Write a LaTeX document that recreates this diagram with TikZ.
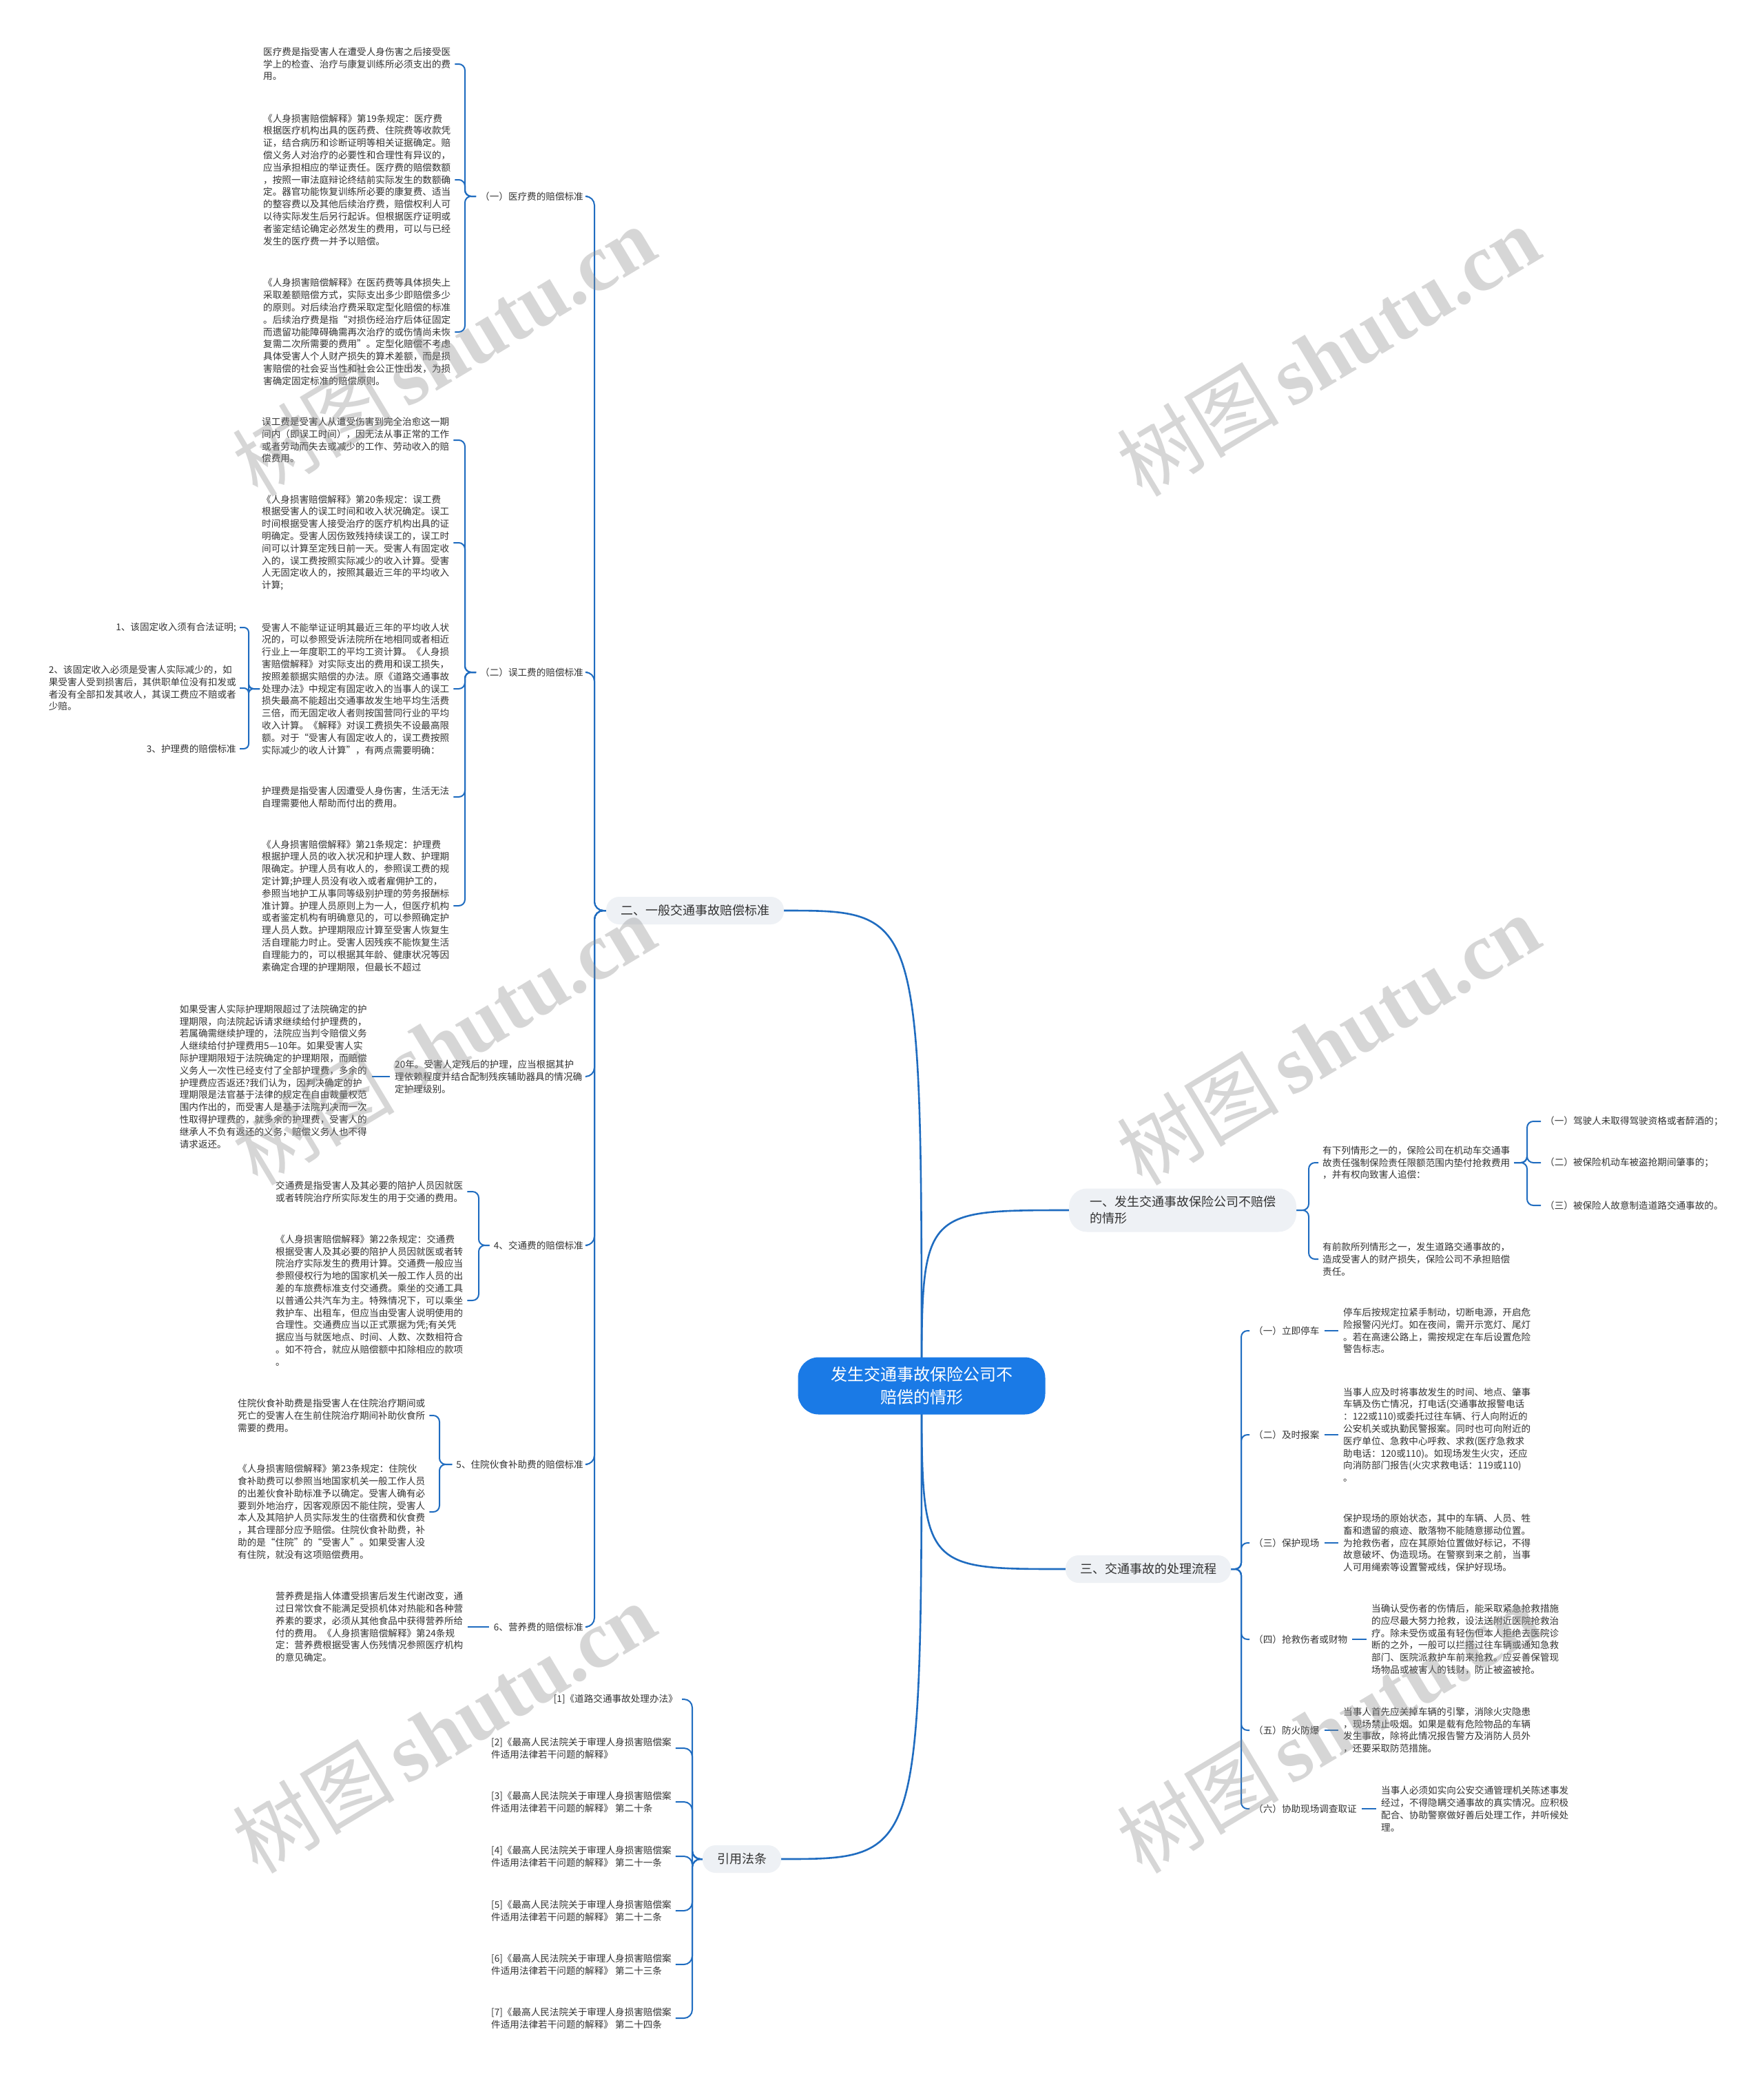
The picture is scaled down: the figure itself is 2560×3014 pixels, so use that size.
\documentclass[tikz,border=0pt]{standalone}
\usepackage{fontspec}
\newfontfamily\cjk{Noto Sans CJK SC}
\newfontfamily\wmlat{Liberation Serif}
\usetikzlibrary{backgrounds}
\definecolor{lc}{HTML}{1F6CC0}
\definecolor{txt}{HTML}{333333}
\definecolor{tfill}{HTML}{EEF1F5}
\definecolor{rootfill}{HTML}{1A7AE6}
\begin{document}
\begin{tikzpicture}[x=1pt,y=-1pt,
 leaf/.style={font=\cjk\fontsize{13.6}{17.8}\selectfont, align=left, inner sep=0pt, text=txt},
 conn/.style={draw=lc, line width=2pt, rounded corners=9pt},
 rootc/.style={draw=lc, line width=2.6pt},
 topic/.style={font=\cjk\fontsize{18}{24}\selectfont, fill=tfill, rounded corners=19pt, inner xsep=21pt, inner ysep=0pt, minimum height=40pt, text=txt, align=left},
 wm/.style={font=\cjk\fontsize{118}{118}\selectfont, text=black!45, text opacity=0.35, rotate=31}
]
% ---------------- root and main topics
\node[font=\cjk\fontsize{24}{33}\selectfont, fill=rootfill, text=white, rounded corners=30pt, minimum width=359pt, minimum height=83pt, align=center, inner sep=0pt] (root) at (1338,2012) {发生交通事故保险公司不\\赔偿的情形};
\node[topic] (er) at (1009,1322) {二、一般交通事故赔偿标准};
\node[topic] (yy) at (1077,2699) {引用法条};
\node[topic, inner xsep=30pt, minimum height=63pt, rounded corners=26pt] (y1) at (1717,1757) {一、发生交通事故保险公司不赔偿\\的情形};
\node[topic] (sn) at (1667,2278) {三、交通事故的处理流程};

% ---------------- (一) medical
\node[leaf,anchor=east] (L1) at (847,285) {（一）医疗费的赔偿标准};
\node[leaf,anchor=west] (A1) at (382,93) {医疗费是指受害人在遭受人身伤害之后接受医\\学上的检查、治疗与康复训练所必须支出的费\\用。};
\node[leaf,anchor=west] (A2) at (382,261) {《人身损害赔偿解释》第19条规定：医疗费\\根据医疗机构出具的医药费、住院费等收款凭\\证，结合病历和诊断证明等相关证据确定。赔\\偿义务人对治疗的必要性和合理性有异议的，\\应当承担相应的举证责任。医疗费的赔偿数额\\，按照一审法庭辩论终结前实际发生的数额确\\定。器官功能恢复训练所必要的康复费、适当\\的整容费以及其他后续治疗费，赔偿权利人可\\以待实际发生后另行起诉。但根据医疗证明或\\者鉴定结论确定必然发生的费用，可以与已经\\发生的医疗费一并予以赔偿。};
\node[leaf,anchor=west] (A3) at (382,482) {《人身损害赔偿解释》在医药费等具体损失上\\采取差额赔偿方式，实际支出多少即赔偿多少\\的原则。对后续治疗费采取定型化赔偿的标准\\。后续治疗费是指“对损伤经治疗后体征固定\\而遗留功能障碍确需再次治疗的或伤情尚未恢\\复需二次所需要的费用”。定型化赔偿不考虑\\具体受害人个人财产损失的算术差额，而是损\\害赔偿的社会妥当性和社会公正性出发，为损\\害确定固定标准的赔偿原则。};

% ---------------- (二) lost wages
\node[leaf,anchor=east] (L2) at (847,976) {（二）误工费的赔偿标准};
\node[leaf,anchor=west] (B1) at (380,639) {误工费是受害人从遭受伤害到完全治愈这一期\\间内（即误工时间），因无法从事正常的工作\\或者劳动而失去或减少的工作、劳动收入的赔\\偿费用。};
\node[leaf,anchor=west] (B2) at (380,788) {《人身损害赔偿解释》第20条规定：误工费\\根据受害人的误工时间和收入状况确定。误工\\时间根据受害人接受治疗的医疗机构出具的证\\明确定。受害人因伤致残持续误工的，误工时\\间可以计算至定残日前一天。受害人有固定收\\入的，误工费按照实际减少的收入计算。受害\\人无固定收人的，按照其最近三年的平均收入\\计算;};
\node[leaf,anchor=west] (B3) at (380,1000) {受害人不能举证证明其最近三年的平均收人状\\况的，可以参照受诉法院所在地相同或者相近\\行业上一年度职工的平均工资计算。《人身损\\害赔偿解释》对实际支出的费用和误工损失，\\按照差额据实赔偿的办法。原《道路交通事故\\处理办法》中规定有固定收入的当事人的误工\\损失最高不能超出交通事故发生地平均生活费\\三倍，而无固定收人者则按国营同行业的平均\\收入计算。《解释》对误工费损失不设最高限\\额。对于“受害人有固定收人的，误工费按照\\实际减少的收人计算”，有两点需要明确：};
\node[leaf,anchor=east] (B3a) at (343,911) {1、该固定收入须有合法证明;};
\node[leaf,anchor=east] (B3b) at (343,999) {2、该固定收入必须是受害人实际减少的，如\\果受害人受到损害后，其供职单位没有扣发或\\者没有全部扣发其收人，其误工费应不赔或者\\少赔。};
\node[leaf,anchor=east] (B3c) at (343,1087) {3、护理费的赔偿标准};
\node[leaf,anchor=west] (B4) at (380,1157) {护理费是指受害人因遭受人身伤害，生活无法\\自理需要他人帮助而付出的费用。};
\node[leaf,anchor=west] (B5) at (380,1315) {《人身损害赔偿解释》第21条规定：护理费\\根据护理人员的收入状况和护理人数、护理期\\限确定。护理人员有收人的，参照误工费的规\\定计算;护理人员没有收入或者雇佣护工的，\\参照当地护工从事同等级别护理的劳务报酬标\\准计算。护理人员原则上为一人，但医疗机构\\或者鉴定机构有明确意见的，可以参照确定护\\理人员人数。护理期限应计算至受害人恢复生\\活自理能力时止。受害人因残疾不能恢复生活\\自理能力的，可以根据其年龄、健康状况等因\\素确定合理的护理期限，但最长不超过};

% ---------------- 20年
\node[leaf,anchor=west] (N20) at (573,1563) {20年。受害人定残后的护理，应当根据其护\\理依赖程度并结合配制残疾辅助器具的情况确\\定护理级别。};
\node[leaf,anchor=east] (P) at (533,1563) {如果受害人实际护理期限超过了法院确定的护\\理期限，向法院起诉请求继续给付护理费的，\\若属确需继续护理的，法院应当判令赔偿义务\\人继续给付护理费用5—10年。如果受害人实\\际护理期限短于法院确定的护理期限，而赔偿\\义务人一次性已经支付了全部护理费，多余的\\护理费应否返还?我们认为，因判决确定的护\\理期限是法官基于法律的规定在自由裁量权范\\围内作出的，而受害人是基于法院判决而一次\\性取得护理费的，就多余的护理费，受害人的\\继承人不负有返还的义务，赔偿义务人也不得\\请求返还。};

% ---------------- 4 transport
\node[leaf,anchor=east] (L4) at (847,1808) {4、交通费的赔偿标准};
\node[leaf,anchor=west] (C1) at (400,1730) {交通费是指受害人及其必要的陪护人员因就医\\或者转院治疗所实际发生的用于交通的费用。};
\node[leaf,anchor=west] (C2) at (400,1888) {《人身损害赔偿解释》第22条规定：交通费\\根据受害人及其必要的陪护人员因就医或者转\\院治疗实际发生的费用计算。交通费一般应当\\参照侵权行为地的国家机关一般工作人员的出\\差的车旅费标准支付交通费。乘坐的交通工具\\以普通公共汽车为主。特殊情况下，可以乘坐\\救护车、出租车，但应当由受害人说明使用的\\合理性。交通费应当以正式票据为凭;有关凭\\据应当与就医地点、时间、人数、次数相符合\\。如不符合，就应从赔偿额中扣除相应的款项\\。};

% ---------------- 5 food
\node[leaf,anchor=east] (L5) at (847,2126) {5、住院伙食补助费的赔偿标准};
\node[leaf,anchor=west] (D1) at (345,2055) {住院伙食补助费是指受害人在住院治疗期间或\\死亡的受害人在生前住院治疗期间补助伙食所\\需要的费用。};
\node[leaf,anchor=west] (D2) at (345,2195) {《人身损害赔偿解释》第23条规定：住院伙\\食补助费可以参照当地国家机关一般工作人员\\的出差伙食补助标准予以确定。受害人确有必\\要到外地治疗，因客观原因不能住院，受害人\\本人及其陪护人员实际发生的住宿费和伙食费\\，其合理部分应予赔偿。住院伙食补助费，补\\助的是“住院”的“受害人”。如果受害人没\\有住院，就没有这项赔偿费用。};

% ---------------- 6 nutrition
\node[leaf,anchor=east] (L6) at (847,2362) {6、营养费的赔偿标准};
\node[leaf,anchor=west] (E1) at (400,2362) {营养费是指人体遭受损害后发生代谢改变，通\\过日常饮食不能满足受损机体对热能和各种营\\养素的要求，必须从其他食品中获得营养所给\\付的费用。《人身损害赔偿解释》第24条规\\定：营养费根据受害人伤残情况参照医疗机构\\的意见确定。};

% ---------------- references
\node[leaf,anchor=east] (R1) at (984,2467) {[1]《道路交通事故处理办法》};
\node[leaf,anchor=west] (R2) at (713,2538) {[2]《最高人民法院关于审理人身损害赔偿案\\件适用法律若干问题的解释》};
\node[leaf,anchor=west] (R3) at (713,2616) {[3]《最高人民法院关于审理人身损害赔偿案\\件适用法律若干问题的解释》 第二十条};
\node[leaf,anchor=west] (R4) at (713,2695) {[4]《最高人民法院关于审理人身损害赔偿案\\件适用法律若干问题的解释》 第二十一条};
\node[leaf,anchor=west] (R5) at (713,2774) {[5]《最高人民法院关于审理人身损害赔偿案\\件适用法律若干问题的解释》 第二十二条};
\node[leaf,anchor=west] (R6) at (713,2852) {[6]《最高人民法院关于审理人身损害赔偿案\\件适用法律若干问题的解释》 第二十三条};
\node[leaf,anchor=west] (R7) at (713,2930) {[7]《最高人民法院关于审理人身损害赔偿案\\件适用法律若干问题的解释》 第二十四条};

% ---------------- right: 一
\node[leaf,anchor=west] (F1) at (1920,1688) {有下列情形之一的，保险公司在机动车交通事\\故责任强制保险责任限额范围内垫付抢救费用\\，并有权向致害人追偿：};
\node[leaf,anchor=west] (F2) at (1920,1828) {有前款所列情形之一，发生道路交通事故的，\\造成受害人的财产损失，保险公司不承担赔偿\\责任。};
\node[leaf,anchor=west] (K1) at (2243,1628) {（一）驾驶人未取得驾驶资格或者醉酒的；};
\node[leaf,anchor=west] (K2) at (2243,1688) {（二）被保险机动车被盗抢期间肇事的；};
\node[leaf,anchor=west] (K3) at (2243,1750) {（三）被保险人故意制造道路交通事故的。};

% ---------------- right: 三
\node[leaf,anchor=west] (T1) at (1820,1932) {（一）立即停车};
\node[leaf,anchor=west] (T2) at (1820,2083) {（二）及时报案};
\node[leaf,anchor=west] (T3) at (1820,2240) {（三）保护现场};
\node[leaf,anchor=west] (T4) at (1820,2380) {（四）抢救伤者或财物};
\node[leaf,anchor=west] (T5) at (1820,2512) {（五）防火防爆};
\node[leaf,anchor=west] (T6) at (1820,2626) {（六）协助现场调查取证};
\node[leaf,anchor=west] (G1) at (1950,1932) {停车后按规定拉紧手制动，切断电源，开启危\\险报警闪光灯。如在夜间，需开示宽灯、尾灯\\。若在高速公路上，需按规定在车后设置危险\\警告标志。};
\node[leaf,anchor=west] (G2) at (1950,2083) {当事人应及时将事故发生的时间、地点、肇事\\车辆及伤亡情况，打电话(交通事故报警电话\\：122或110)或委托过往车辆、行人向附近的\\公安机关或执勤民警报案。同时也可向附近的\\医疗单位、急救中心呼救、求救(医疗急救求\\助电话：120或110)。如现场发生火灾，还应\\向消防部门报告(火灾求救电话：119或110)\\。};
\node[leaf,anchor=west] (G3) at (1950,2240) {保护现场的原始状态，其中的车辆、人员、牲\\畜和遗留的痕迹、散落物不能随意挪动位置。\\为抢救伤者，应在其原始位置做好标记，不得\\故意破坏、伪造现场。在警察到来之前，当事\\人可用绳索等设置警戒线，保护好现场。};
\node[leaf,anchor=west] (G4) at (1991,2380) {当确认受伤者的伤情后，能采取紧急抢救措施\\的应尽最大努力抢救，设法送附近医院抢救治\\疗。除未受伤或虽有轻伤但本人拒绝去医院诊\\断的之外，一般可以拦搭过往车辆或通知急救\\部门、医院派救护车前来抢救。应妥善保管现\\场物品或被害人的钱财，防止被盗被抢。};
\node[leaf,anchor=west] (G5) at (1950,2512) {当事人首先应关掉车辆的引擎，消除火灾隐患\\，现场禁止吸烟。如果是载有危险物品的车辆\\发生事故，除将此情况报告警方及消防人员外\\，还要采取防范措施。};
\node[leaf,anchor=west] (G6) at (2005,2626) {当事人必须如实向公安交通管理机关陈述事发\\经过，不得隐瞒交通事故的真实情况。应积极\\配合、协助警察做好善后处理工作，并听候处\\理。};

% ---------------- spine coordinates
\coordinate (s0) at (863,0);
\coordinate (s1) at (675,0);
\coordinate (s2) at (361,0);
\coordinate (s4) at (695,0);
\coordinate (s5) at (638,0);
\coordinate (s7) at (1005,0);
\coordinate (s8) at (1900,0);
\coordinate (s9) at (2217,0);
\coordinate (s10) at (1802,0);

\begin{pgfonlayer}{background}
\fill[white] (0,0) rectangle (2560,3014);
% root curves
\draw[rootc] (root.center) .. controls (1338,1322) .. (er.east);
\draw[rootc] (root.center) .. controls (1338,2699) .. (yy.east);
\draw[rootc] (root.center) .. controls (1338,1757) .. (y1.west);
\draw[rootc] (root.center) .. controls (1338,2278) .. (sn.west);
% 二 spine
\foreach \c in {L1,L2,N20,L4,L5,L6}
  \draw[conn,rounded corners=13pt] (er.west) -- (er.west -| s0) |- ([xshift=6pt]\c.east);
\foreach \c in {A1,A2,A3}
  \draw[conn] ([xshift=-6pt]L1.west) -- (L1.west -| s1) |- ([xshift=6pt]\c.east);
\foreach \c in {B1,B2,B3,B4,B5}
  \draw[conn] ([xshift=-6pt]L2.west) -- (L2.west -| s1) |- ([xshift=6pt]\c.east);
\foreach \c in {B3a,B3b,B3c}
  \draw[conn,rounded corners=7pt] ([xshift=-3pt]B3.west) -- (B3.west -| s2) |- ([xshift=5pt]\c.east);
\foreach \c in {C1,C2}
  \draw[conn] ([xshift=-6pt]L4.west) -- (L4.west -| s4) |- ([xshift=6pt]\c.east);
\foreach \c in {D1,D2}
  \draw[conn] ([xshift=-6pt]L5.west) -- (L5.west -| s5) |- ([xshift=6pt]\c.east);
\draw[conn] ([xshift=-7pt]L6.west) -- ([xshift=7pt]E1.east);
\draw[conn] ([xshift=-7pt]N20.west) -- ([xshift=7pt]P.east);
% references
\foreach \c in {R1,R2,R3,R4,R5,R6,R7}
  \draw[conn,rounded corners=12pt] (yy.west) -- (yy.west -| s7) |- ([xshift=6pt]\c.east);
% 一
\foreach \c in {F1,F2}
  \draw[conn] (y1.east) -- (y1.east -| s8) |- ([xshift=-6pt]\c.west);
\foreach \c in {K1,K2,K3}
  \draw[conn] ([xshift=6pt]F1.east) -- (F1.east -| s9) |- ([xshift=-6pt]\c.west);
% 三
\foreach \c in {T1,T2,T3,T4,T5,T6}
  \draw[conn] (sn.east) -- (sn.east -| s10) |- ([xshift=-6pt]\c.west);
\foreach \i in {1,...,6}
  \draw[conn] ([xshift=7pt]T\i.east) -- ([xshift=-7pt]G\i.west);
\end{pgfonlayer}

% ---------------- watermarks
\foreach \p in {(644,509),(1928,509),(644,1509),(1928,1509),(644,2508),(1928,2508)}
  \node[wm] at \p {树图\hspace{18pt}{\wmlat\bfseries shutu.cn}};
\end{tikzpicture}
\end{document}
